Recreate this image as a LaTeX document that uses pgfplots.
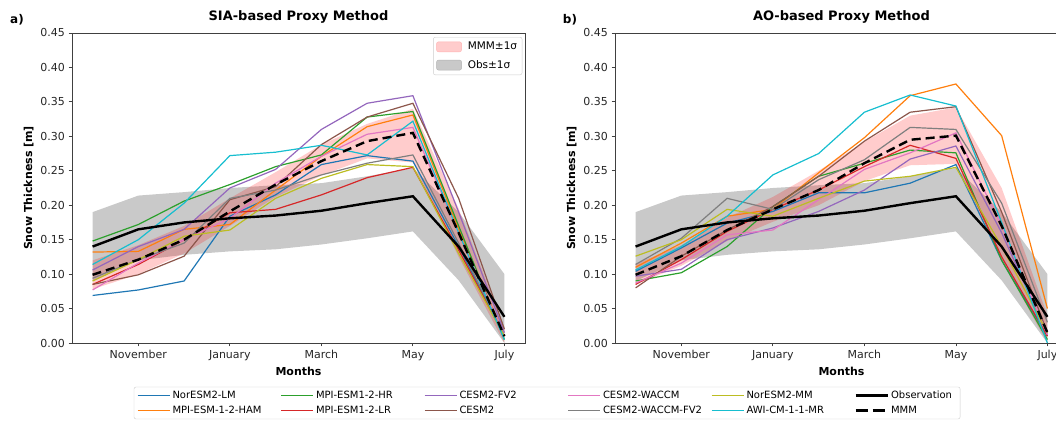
\documentclass[border=0pt]{standalone}
\usepackage{fontspec}
\setmainfont{DejaVu Sans}
\usepackage{pgfplots}
\usepackage{pgfplotstable}
\pgfplotsset{compat=1.18}
\usepgfplotslibrary{fillbetween}

\definecolor{c0}{HTML}{1F77B4}
\definecolor{c1}{HTML}{FF7F0E}
\definecolor{c2}{HTML}{2CA02C}
\definecolor{c3}{HTML}{D62728}
\definecolor{c4}{HTML}{9467BD}
\definecolor{c5}{HTML}{8C564B}
\definecolor{c6}{HTML}{E377C2}
\definecolor{c7}{HTML}{7F7F7F}
\definecolor{c8}{HTML}{BCBD22}
\definecolor{c9}{HTML}{17BECF}

% months: 0 = October ... 9 = July
\pgfplotstableread{
m obs   obsU  obsL  mmm   mmmU  mmmL  lm    ham   hr    lr    fv2   cesm  waccm wfv2  mm    awi
0 0.140 0.190 0.090 0.099 0.120 0.078 0.069 0.132 0.148 0.085 0.106 0.085 0.077 0.094 0.090 0.114
1 0.165 0.214 0.120 0.121 0.142 0.100 0.077 0.133 0.172 0.114 0.140 0.099 0.116 0.121 0.121 0.150
2 0.175 0.219 0.128 0.150 0.170 0.130 0.090 0.165 0.206 0.150 0.165 0.126 0.150 0.145 0.155 0.203
3 0.181 0.225 0.133 0.191 0.210 0.170 0.184 0.172 0.230 0.189 0.225 0.208 0.181 0.210 0.164 0.272
4 0.185 0.229 0.136 0.230 0.248 0.212 0.215 0.222 0.256 0.194 0.252 0.227 0.232 0.222 0.210 0.277
5 0.192 0.232 0.143 0.264 0.288 0.243 0.259 0.271 0.273 0.215 0.310 0.288 0.271 0.244 0.239 0.287
6 0.203 0.242 0.152 0.293 0.318 0.268 0.272 0.314 0.328 0.240 0.348 0.328 0.303 0.261 0.259 0.273
7 0.213 0.254 0.162 0.305 0.340 0.262 0.264 0.331 0.336 0.255 0.359 0.348 0.313 0.273 0.256 0.322
8 0.140 0.190 0.091 0.160 0.195 0.125 0.140 0.165 0.170 0.135 0.190 0.210 0.160 0.145 0.130 0.160
9 0.038 0.100 0.000 0.010 0.022 0.000 0.010 0.010 0.005 0.010 0.015 0.020 0.010 0.010 0.010 0.005
}\dataA

\pgfplotstableread{
m obs   obsU  obsL  mmm   mmmU  mmmL  lm    ham   hr    lr    fv2   cesm  waccm wfv2  mm    awi
0 0.140 0.190 0.090 0.099 0.115 0.085 0.104 0.110 0.090 0.085 0.097 0.080 0.087 0.114 0.126 0.106
1 0.165 0.214 0.120 0.126 0.142 0.112 0.138 0.145 0.102 0.121 0.107 0.126 0.116 0.152 0.150 0.140
2 0.175 0.219 0.128 0.164 0.182 0.148 0.174 0.184 0.140 0.162 0.150 0.164 0.157 0.210 0.194 0.184
3 0.181 0.225 0.133 0.194 0.212 0.176 0.191 0.194 0.198 0.194 0.167 0.198 0.164 0.194 0.184 0.244
4 0.185 0.229 0.136 0.222 0.250 0.200 0.218 0.247 0.242 0.222 0.191 0.242 0.208 0.237 0.210 0.275
5 0.192 0.232 0.143 0.261 0.292 0.235 0.218 0.298 0.261 0.256 0.222 0.293 0.252 0.266 0.235 0.335
6 0.203 0.242 0.152 0.295 0.330 0.258 0.232 0.359 0.280 0.287 0.267 0.335 0.276 0.313 0.242 0.360
7 0.213 0.254 0.162 0.301 0.342 0.260 0.259 0.376 0.276 0.268 0.286 0.343 0.305 0.310 0.255 0.344
8 0.140 0.190 0.091 0.170 0.225 0.120 0.120 0.301 0.120 0.125 0.160 0.190 0.170 0.203 0.140 0.175
9 0.038 0.100 0.000 0.015 0.040 0.000 0.010 0.050 0.005 0.010 0.012 0.015 0.012 0.030 0.015 0.000
}\dataB

\pgfplotsset{
  panel/.style={
    scale only axis, width=453pt, height=310pt,
    xmin=-0.45, xmax=9.45, ymin=0, ymax=0.45,
    xtick={1,3,5,7,9},
    xticklabels={November,January,March,May,July},
    ytick={0,0.05,0.10,0.15,0.20,0.25,0.30,0.35,0.40,0.45},
    tick pos=left, tick align=outside, major tick length=3.5pt,
    axis line style={black!75, line width=0.8pt},
    tick style={black!75, line width=0.8pt},
    ticklabel style={font=\fontsize{11}{13}\selectfont, text=black!85},
    yticklabel style={/pgf/number format/.cd, fixed, fixed zerofill, precision=2},
    /pgf/number format/assume math mode=true,
    xlabel={Months}, ylabel={Snow Thickness [m]},
    label style={font=\bfseries\fontsize{11}{13}\selectfont},
    title style={font=\bfseries\fontsize{13}{15}\selectfont},
    legend image code/.code={\draw[##1] (0pt,0pt) -- (25pt,0pt);
      \path (0pt,0pt) -- (32pt,0pt);},
  },
  boxlegend/.style={
    legend image code/.code={\draw[##1] (0pt,-5pt) rectangle (25pt,5pt);},
  },
}

\newcommand{\drawpanel}[1]{%
  \addplot[name path=ou, draw=none, forget plot] table[x=m, y=obsU] {#1};
  \addplot[name path=ol, draw=none, forget plot] table[x=m, y=obsL] {#1};
  \addplot[fill=black!21, draw=none, forget plot] fill between[of=ou and ol];
  \addplot[name path=mu, draw=none, forget plot] table[x=m, y=mmmU] {#1};
  \addplot[name path=ml, draw=none, forget plot] table[x=m, y=mmmL] {#1};
  \addplot[fill=red, fill opacity=0.2, draw=none, forget plot] fill between[of=mu and ml];
  \addplot[c0, line width=1.2pt, forget plot] table[x=m, y=lm] {#1};
  \addplot[c1, line width=1.2pt, forget plot] table[x=m, y=ham] {#1};
  \addplot[c2, line width=1.2pt, forget plot] table[x=m, y=hr] {#1};
  \addplot[c3, line width=1.2pt, forget plot] table[x=m, y=lr] {#1};
  \addplot[c4, line width=1.2pt, forget plot] table[x=m, y=fv2] {#1};
  \addplot[c5, line width=1.2pt, forget plot] table[x=m, y=cesm] {#1};
  \addplot[c6, line width=1.2pt, forget plot] table[x=m, y=waccm] {#1};
  \addplot[c7, line width=1.2pt, forget plot] table[x=m, y=wfv2] {#1};
  \addplot[c8, line width=1.2pt, forget plot] table[x=m, y=mm] {#1};
  \addplot[c9, line width=1.2pt, forget plot] table[x=m, y=awi] {#1};
  \addplot[black, line width=2.4pt, forget plot] table[x=m, y=obs] {#1};
  \addplot[black, line width=2.4pt, dash pattern=on 9pt off 5pt, forget plot] table[x=m, y=mmm] {#1};
}

\begin{document}
\begin{tikzpicture}
\begin{axis}[panel, at={(72pt,77pt)}, anchor=south west,
  title={SIA-based Proxy Method},
  legend style={at={(0.994,0.987)}, anchor=north east, draw=black!20,
    rounded corners=2pt, font=\fontsize{10.5}{12}\selectfont,
    cells={anchor=west}, row sep=5pt, inner sep=3pt,
    /tikz/every odd column/.append style={column sep=4pt}},
]
\drawpanel{\dataA}
\addlegendimage{boxlegend, fill=red!20, draw=red!30}
\addlegendentry{MMM±1σ}
\addlegendimage{boxlegend, fill=black!21, draw=black!30}
\addlegendentry{Obs±1σ}
\end{axis}

\begin{axis}[panel, at={(615pt,77pt)}, anchor=south west,
  title={AO-based Proxy Method},
  legend columns=6,
  legend style={at={(-0.150,-0.1935)}, anchor=center, draw=black!20,
    rounded corners=2pt, font=\fontsize{10}{12}\selectfont,
    cells={anchor=west}, row sep=2pt, nodes={text width=106pt}},
]
\drawpanel{\dataB}
\addlegendimage{c0, line width=1.5pt}\addlegendentry{NorESM2-LM}
\addlegendimage{c2, line width=1.5pt}\addlegendentry{MPI-ESM1-2-HR}
\addlegendimage{c4, line width=1.5pt}\addlegendentry{CESM2-FV2}
\addlegendimage{c6, line width=1.5pt}\addlegendentry{CESM2-WACCM}
\addlegendimage{c8, line width=1.5pt}\addlegendentry{NorESM2-MM}
\addlegendimage{black, line width=2.6pt}\addlegendentry[text width=64pt]{Observation}
\addlegendimage{c1, line width=1.5pt}\addlegendentry{MPI-ESM-1-2-HAM}
\addlegendimage{c3, line width=1.5pt}\addlegendentry{MPI-ESM1-2-LR}
\addlegendimage{c5, line width=1.5pt}\addlegendentry{CESM2}
\addlegendimage{c7, line width=1.5pt}\addlegendentry{CESM2-WACCM-FV2}
\addlegendimage{c9, line width=1.5pt}\addlegendentry{AWI-CM-1-1-MR}
\addlegendimage{black, line width=2.6pt, dash pattern=on 12pt off 5pt}\addlegendentry[text width=64pt]{MMM}
\end{axis}

\node[font=\bfseries\fontsize{12}{14}\selectfont] at (17pt,400pt) {a)};
\node[font=\bfseries\fontsize{12}{14}\selectfont] at (570pt,400pt) {b)};
\pgfresetboundingbox
\useasboundingbox (0,0) rectangle (1056pt,420pt);
\end{tikzpicture}
\end{document}
